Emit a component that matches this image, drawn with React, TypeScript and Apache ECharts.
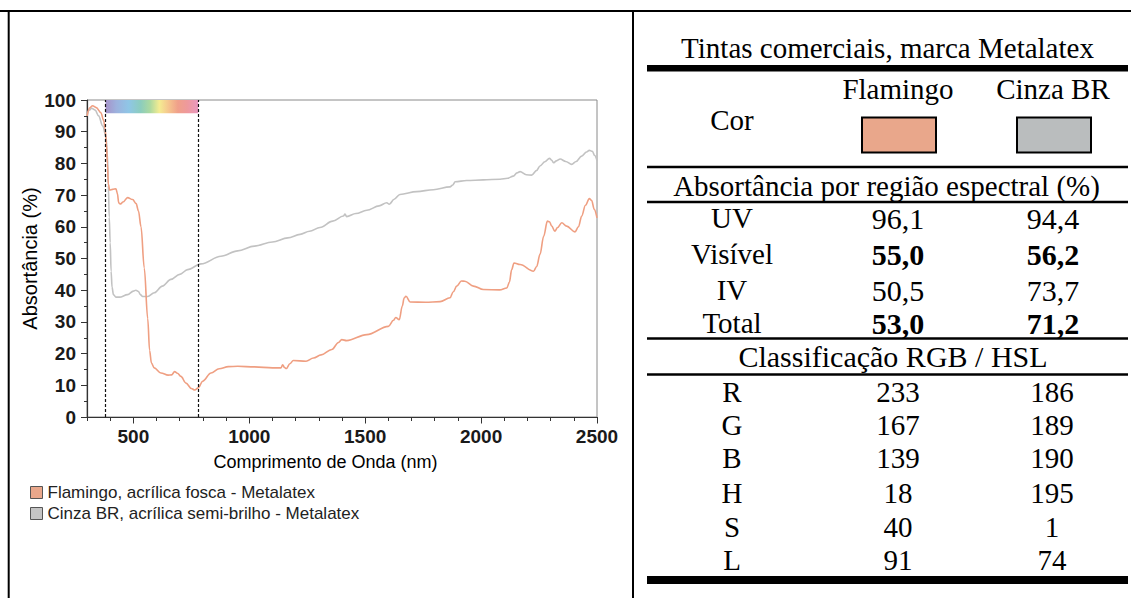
import React, { useEffect, useRef } from "react";
import * as echarts from "echarts";

// ---------- Chart data ----------
const flamingoWl = [300, 312, 324, 340, 360, 372, 378, 384, 388, 392, 398, 410, 425, 431, 437, 445, 455, 475, 497, 512, 522, 533, 547, 562, 570, 578, 590, 619, 650, 665, 678, 690, 705, 727, 750, 765, 780, 799, 835, 870, 910, 950, 1022, 1100, 1137, 1144, 1152, 1160, 1175, 1190, 1245, 1277, 1310, 1356, 1385, 1399, 1420, 1507, 1600, 1622, 1632, 1647, 1660, 1668, 1676, 1694, 1760, 1823, 1866, 1880, 1895, 1915, 1930, 1967, 2010, 2080, 2111, 2122, 2132, 2142, 2168, 2226, 2240, 2254, 2270, 2286, 2295, 2305, 2318, 2330, 2348, 2369, 2405, 2420, 2434, 2450, 2467, 2477, 2488, 2500];
const flamingoAbs = [95, 97.5, 98.2, 97.6, 96, 93.5, 91, 86, 80, 73.5, 71.6, 71.8, 72, 70.5, 67.5, 67.2, 67.8, 69.2, 68.6, 67.3, 65, 60, 47, 31, 21, 17, 15.5, 13.9, 13.2, 13.3, 14.3, 13.8, 12.8, 10.7, 9, 8.5, 9.2, 11.3, 13.9, 15.2, 15.9, 16, 15.8, 15.5, 15.5, 16.5, 15.6, 15.3, 16.8, 17.8, 17.6, 18.6, 19.6, 21.3, 23.5, 24.4, 24.1, 26, 28.6, 30.5, 31.4, 30.7, 35, 37.5, 38.1, 36.3, 36.2, 36.4, 37.6, 39.5, 41.3, 42.9, 42.8, 41.3, 40.2, 40.1, 40.7, 42.5, 46.5, 48.6, 48.1, 46, 47.5, 51.3, 57, 61.8, 61.6, 60.2, 58.6, 59.8, 61.3, 60.2, 58.4, 60, 63.4, 66.8, 68.9, 68.3, 65.5, 62.8];

const cinzaWl = [300, 310, 320, 335, 350, 368, 382, 388, 392, 396, 400, 404, 408, 414, 425, 440, 475, 500, 511, 522, 530, 540, 562, 590, 625, 662, 700, 734, 792, 878, 950, 1022, 1100, 1166, 1219, 1260, 1305, 1360, 1406, 1413, 1420, 1460, 1507, 1560, 1593, 1604, 1625, 1650, 1722, 1794, 1866, 1878, 1888, 1938, 2010, 2082, 2115, 2139, 2155, 2168, 2195, 2218, 2240, 2254, 2275, 2295, 2305, 2312, 2325, 2341, 2365, 2391, 2410, 2434, 2455, 2467, 2480, 2490, 2500];
const cinzaAbs = [95, 96.8, 97.4, 96.8, 95, 91.8, 88.5, 83, 73, 63, 55, 46, 41, 38.6, 37.8, 37.8, 38.6, 39.7, 40, 39.6, 38.6, 38, 38, 39.2, 41.3, 43.4, 45, 46.5, 48.3, 50.7, 52.4, 53.9, 55.2, 56.5, 57.6, 58.6, 59.8, 61.8, 63.4, 64, 63.2, 64.2, 65.2, 66.6, 67.6, 67.1, 68.7, 70.2, 71.1, 71.7, 72.6, 73.2, 74.2, 74.6, 74.8, 75, 75.3, 76, 77, 77.4, 76.4, 76.3, 77.8, 79.2, 80.5, 81.6, 81, 80.2, 80.8, 81.4, 80.6, 79.7, 80.6, 82.3, 83.6, 84.1, 83.8, 82.5, 80.9];

const seriesNames = ["Flamingo, acrílica fosca - Metalatex", "Cinza BR, acrílica semi-brilho - Metalatex"];
const visibleRange = [380, 780];
const rainbowBand = [95.8, 100];

// ---------- Table data ----------
const tableTitle = "Tintas comerciais, marca Metalatex";
const paintNames = ["Flamingo", "Cinza BR"];
const swatchColors = ["#e9a78b", "#babdbe"];
const absHeader = "Absortância por região espectral (%)";
const regions = ["UV", "Visível", "IV", "Total"];
const flamingoRegionAbs = ["96,1", "55,0", "50,5", "53,0"];
const cinzaRegionAbs = ["94,4", "56,2", "73,7", "71,2"];
const boldRegion = [false, true, false, true];
const colorHeader = "Classificação RGB / HSL";
const channels = ["R", "G", "B", "H", "S", "L"];
const flamingoChannels = [233, 167, 139, 18, 40, 91];
const cinzaChannels = [186, 189, 190, 195, 1, 74];

const SERIF = "'Liberation Serif', 'Times New Roman', serif";
const SANS = "'Liberation Sans', Arial, sans-serif";

function buildGraphic() {
  const g: any[] = [];
  const line = (x1: number, y1: number, x2: number, y2: number, w: number) =>
    g.push({ type: "line", shape: { x1, y1, x2, y2 }, style: { stroke: "#000", lineWidth: w }, silent: true });
  const text = (x: number, y: number, t: string, bold = false, size = 29) =>
    g.push({
      type: "text",
      x,
      y,
      style: { text: t, fill: "#000", font: `${bold ? "bold " : ""}${size}px ${SERIF}`, align: "center", verticalAlign: "middle" },
      silent: true,
    });
  // outer frame
  line(0, 11, 1131, 11, 2);
  line(8.7, 10, 8.7, 598, 2);
  line(633, 10, 633, 598, 2);
  // table rules
  g.push({ type: "rect", shape: { x: 647, y: 65, width: 481, height: 6.5 }, style: { fill: "#000" }, silent: true });
  line(647, 167, 1128, 167, 2.5);
  line(647, 202, 1128, 202, 2.5);
  line(647, 338.5, 1128, 338.5, 2.5);
  line(647, 374.5, 1128, 374.5, 2.5);
  g.push({ type: "rect", shape: { x: 647, y: 576, width: 481, height: 8 }, style: { fill: "#000" }, silent: true });

  const cols = [732, 898, 1053];
  text(887.5, 47.5, tableTitle);
  text(898, 89, paintNames[0]);
  text(1053, 89, paintNames[1]);
  text(cols[0], 120, "Cor");
  [862, 1017].forEach((x, i) =>
    g.push({
      type: "rect",
      shape: { x, y: 117.5, width: 74, height: 35 },
      style: { fill: swatchColors[i], stroke: "#000", lineWidth: 2 },
      silent: true,
    })
  );
  text(886.5, 186, absHeader);
  const rowY = [218.3, 254.3, 290, 323.3];
  regions.forEach((r, i) => {
    text(cols[0], rowY[i], r);
    text(cols[1], rowY[i], flamingoRegionAbs[i], boldRegion[i], 30);
    text(cols[2], rowY[i], cinzaRegionAbs[i], boldRegion[i], 30);
  });
  text(893, 356.7, colorHeader, false, 30);
  const chY = [391.7, 425, 458.3, 493.3, 526.7, 560];
  channels.forEach((c, i) => {
    text(cols[0], chY[i], c);
    text(cols[1], chY[i], String(flamingoChannels[i]));
    text(cols[2] - 1, chY[i], String(cinzaChannels[i]));
  });
  return g;
}

export default function App() {
  const ref = useRef<HTMLDivElement>(null);
  useEffect(() => {
    const chart = echarts.init(ref.current!, null, { renderer: "svg" });
    const rainbow = new echarts.graphic.LinearGradient(0, 0, 1, 0, [
      { offset: 0, color: "#a693c9" },
      { offset: 0.12, color: "#9db2de" },
      { offset: 0.25, color: "#8fc6e6" },
      { offset: 0.38, color: "#8ccdbd" },
      { offset: 0.48, color: "#acd9a0" },
      { offset: 0.58, color: "#f4ec92" },
      { offset: 0.68, color: "#f5c58e" },
      { offset: 0.78, color: "#f0a08a" },
      { offset: 0.88, color: "#ee999c" },
      { offset: 1, color: "#e998c0" },
    ]);
    const plain = (v: number) => String(v);
    chart.setOption({
      animation: false,
      backgroundColor: "#fff",
      textStyle: { fontFamily: SANS },
      grid: { left: 87, top: 100, width: 510, height: 317, show: true, borderColor: "#8a8a8a", borderWidth: 1, containLabel: false },
      legend: {
        data: seriesNames,
        orient: "vertical",
        left: 25,
        top: 479,
        icon: "rect",
        itemWidth: 12,
        itemHeight: 12,
        itemGap: 4,
        itemStyle: { borderColor: "#555", borderWidth: 1 },
        textStyle: { fontSize: 17, color: "#222", fontFamily: SANS },
      },
      xAxis: [
        {
          type: "value",
          min: 300,
          max: 2500,
          interval: 100,
          axisLine: { show: true, lineStyle: { color: "#333", width: 1.2 } },
          axisTick: { show: true, length: 4, lineStyle: { color: "#333" } },
          axisLabel: { show: false },
          splitLine: { show: false },
        },
        {
          type: "value",
          min: 300,
          max: 2500,
          splitNumber: 5,
          position: "bottom",
          axisLine: { show: false },
          axisTick: { show: true, length: 6.5, lineStyle: { color: "#333" } },
          axisLabel: { fontSize: 19, fontWeight: "bold", color: "#1a1a1a", margin: 10, showMinLabel: false, fontFamily: SANS, formatter: plain },
          splitLine: { show: false },
          name: "Comprimento de Onda (nm)",
          nameLocation: "middle",
          nameGap: 36,
          nameTextStyle: { fontSize: 18, color: "#000", fontFamily: SANS, padding: [0, 33, 0, 0] },
        },
      ],
      yAxis: {
        type: "value",
        min: 0,
        max: 100,
        interval: 10,
        axisLine: { show: true, lineStyle: { color: "#333", width: 1.2 } },
        axisTick: { show: true, length: 6, lineStyle: { color: "#333" } },
        minorTick: { show: true, splitNumber: 2, length: 3, lineStyle: { color: "#333" } },
        axisLabel: { fontSize: 19, fontWeight: "bold", color: "#1a1a1a", margin: 11, fontFamily: SANS, formatter: plain },
        splitLine: { show: false },
        name: "Absortância (%)",
        nameLocation: "middle",
        nameGap: 44,
        nameRotate: 90,
        nameTextStyle: { fontSize: 20, color: "#000", fontFamily: SANS },
      },
      series: [
        {
          name: seriesNames[1],
          type: "line",
          xAxisIndex: 0,
          data: cinzaWl.map((x, i) => [x, cinzaAbs[i]]),
          showSymbol: false,
          smooth: 0.35,
          smoothMonotone: "x",
          color: "#c4c4c4",
          lineStyle: { color: "#c2c2c2", width: 1.6 },
          itemStyle: { color: "#c4c4c4" },
          z: 2,
          markArea: {
            silent: true,
            itemStyle: { color: rainbow },
            data: [[{ xAxis: visibleRange[0], yAxis: rainbowBand[0] }, { xAxis: visibleRange[1], yAxis: rainbowBand[1] }]],
          },
          markLine: {
            silent: true,
            symbol: "none",
            label: { show: false },
            lineStyle: { color: "#111", width: 1.2, type: [3, 2] },
            data: [{ xAxis: visibleRange[0] }, { xAxis: visibleRange[1] }],
          },
        },
        {
          name: seriesNames[0],
          type: "line",
          xAxisIndex: 0,
          data: flamingoWl.map((x, i) => [x, flamingoAbs[i]]),
          showSymbol: false,
          smooth: 0.35,
          smoothMonotone: "x",
          color: "#e9a78b",
          lineStyle: { color: "#ef9f82", width: 1.6 },
          itemStyle: { color: "#e9a78b" },
          z: 3,
        },
      ],
      graphic: buildGraphic(),
    });
    return () => chart.dispose();
  }, []);
  return (
    <div
      ref={ref}
      style={{ position: "absolute", left: 0, top: 0, width: 1131, height: 598, background: "#fff" }}
    />
  );
}
